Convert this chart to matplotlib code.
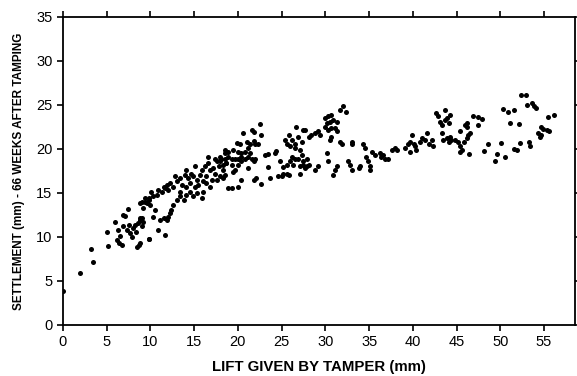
import matplotlib
matplotlib.use("Agg")
import matplotlib.pyplot as plt

lift = [
    0.0, 2.0, 3.2, 3.4, 5.0, 5.1, 6.0, 7.4, 6.9, 7.1,
    6.3, 6.5, 6.2, 6.4, 6.7, 6.9, 7.3, 7.5, 7.7, 7.9, 8.0, 8.2, 8.4, 8.6, 8.8, 9.0, 9.2,
    8.8, 9.4, 9.8, 8.5, 8.7, 9.8,
    9.0, 9.4, 9.8, 10.1, 10.3, 10.7, 10.9, 11.3, 11.5, 11.7, 11.9, 12.0, 12.2, 12.6, 12.8,
    13.0, 13.4, 13.6, 14.0, 14.1, 14.3, 14.5, 14.7, 14.9, 15.1, 15.3, 15.5, 15.7, 15.9,
    16.0, 16.2, 16.4, 16.6, 16.8, 17.0, 17.2, 17.4, 17.6, 17.8, 18.0, 18.1, 18.3, 18.5,
    18.7, 18.0, 16.8, 16.0, 15.9, 15.3, 14.9, 14.5, 14.1, 13.8, 13.4, 13.0, 12.6, 12.4,
    12.2, 12.0, 11.9, 11.5, 11.1, 10.5, 10.3, 9.9, 9.6, 9.2, 8.8, 9.0, 9.8, 10.9, 11.7,
    8.8, 14.1, 13.4, 15.1, 16.4, 17.6, 16.6, 17.4, 18.3, 18.9,
    22.5, 20.6, 21.6, 21.8, 22.7, 19.9, 20.2, 21.0, 21.4, 21.8, 22.0, 22.3, 18.5, 18.9,
    19.5, 20.0, 20.4, 20.8, 21.2, 21.4, 18.1, 18.5, 18.9, 19.3, 19.7, 20.0, 20.4, 20.8,
    21.2, 21.6, 22.0, 18.0, 18.3, 18.7, 19.3, 19.7, 20.0, 20.4, 21.2, 21.8, 18.5, 19.5,
    20.4, 21.8, 22.1, 19.3, 20.0, 22.7, 23.1, 23.5, 24.2, 24.4, 23.5, 23.7, 24.6, 25.0,
    25.2, 25.6, 25.8, 24.8, 25.2, 25.4, 25.6, 25.8, 26.2, 26.5, 26.7, 26.9, 27.3, 27.5,
    26.0, 26.5, 27.1, 26.2, 26.5, 26.9, 27.3, 26.0, 26.3, 27.1, 27.5, 27.9, 27.9, 27.1,
    28.1, 25.6,
    31.7, 32.0, 32.4, 30.0, 30.3, 30.7, 30.2, 30.5, 30.9, 30.0, 30.3, 30.7, 31.3, 31.1,
    31.3, 30.7, 30.5, 31.7, 31.9, 33.0, 33.1, 27.7, 28.4, 29.2, 29.4, 28.8, 27.5, 27.7,
    28.1, 28.8, 29.2, 30.2, 30.3, 30.9, 31.1, 31.3, 32.6, 32.8, 33.0, 33.8, 34.0, 34.3,
    34.5, 34.7, 34.9, 35.1, 35.1, 35.3, 35.7, 36.2, 36.4, 36.8, 37.2,
    36.6, 37.6, 38.0, 38.2, 39.1, 39.5, 39.7, 39.9, 40.1, 40.3, 40.4, 39.7, 40.8, 41.0,
    41.4, 41.6, 41.8, 42.2, 42.3, 42.7, 42.9, 43.1, 43.3, 43.7, 43.7, 43.9, 44.1, 44.3,
    43.3, 43.5, 43.9, 44.1, 44.3, 44.4, 44.8, 45.2, 45.4, 45.4, 45.6, 45.8, 46.0, 46.2,
    46.2, 46.3, 45.4,
    46.2, 46.5, 46.9, 47.5, 47.9, 47.5, 46.4, 48.1, 48.6, 49.4, 49.6, 50.1, 50.5, 50.3,
    50.9, 51.6, 51.1, 52.1, 51.6, 51.9, 52.3, 53.3, 53.4, 52.4, 52.9, 53.0, 53.6, 53.9,
    54.1, 54.3, 54.5, 54.7, 54.9, 55.3, 55.6, 54.7, 55.4, 56.1,
]

settlement = [
    3.8, 5.9, 8.6, 7.2, 10.5, 9.0, 11.7, 13.2, 12.5, 12.4,
    10.8, 10.1, 9.7, 9.3, 9.1, 11.2, 10.8, 11.4, 10.4, 10.0, 11.0, 11.4, 10.6, 11.6, 11.9, 12.1, 11.7,
    13.8, 14.0, 14.4, 8.9, 9.1, 9.8,
    14.0, 14.4, 14.2, 15.1, 14.6, 14.8, 15.3, 15.1, 15.7, 15.5, 15.9, 15.3, 16.1, 15.7, 16.9,
    16.3, 16.7, 15.9, 17.0, 17.6, 16.7, 16.1, 17.2, 16.9, 18.0, 16.5, 15.9, 17.0, 17.6,
    16.3, 18.0, 16.9, 18.4, 17.6, 16.5, 17.8, 17.2, 18.6, 18.0, 16.9, 18.8, 17.6, 19.5,
    18.4, 19.1, 15.7, 15.1, 14.4, 15.0, 14.6, 15.1, 14.8, 14.2, 14.6, 14.2, 13.6, 13.1,
    12.7, 12.3, 11.9, 12.1, 11.9, 13.1, 12.3, 13.6, 13.8, 13.3, 12.1, 11.2, 9.8, 10.8, 10.2,
    9.3, 15.7, 15.1, 15.7, 16.1, 16.5, 19.1, 18.9, 16.7, 15.5,
    22.8, 21.8, 22.1, 21.9, 21.6, 20.7, 20.5, 20.8, 20.6, 20.9, 20.5, 20.5, 19.9, 19.7,
    19.9, 19.7, 19.5, 19.7, 20.1, 19.5, 18.9, 18.8, 19.1, 18.9, 18.8, 18.9, 19.1, 18.9,
    19.1, 18.8, 18.9, 18.6, 18.2, 18.4, 18.2, 17.6, 18.2, 18.6, 17.8, 18.6, 17.0, 17.4,
    16.5, 16.5, 16.7, 15.5, 15.7, 16.0, 19.3, 19.4, 19.5, 19.8, 17.9, 16.7, 16.9, 16.9,
    17.2, 17.2, 17.0, 18.6, 17.9, 21.0, 20.6, 21.6, 21.0, 20.6, 22.5, 21.4, 20.8, 22.2,
    20.3, 20.1, 19.9, 19.1, 18.8, 18.9, 19.3, 18.6, 18.2, 18.0, 18.2, 18.0, 18.8, 17.2,
    21.4, 18.2,
    24.4, 24.9, 24.2, 23.5, 23.7, 23.8, 22.9, 23.1, 23.3, 22.5, 22.2, 22.4, 23.1, 22.4,
    22.0, 21.4, 21.0, 20.8, 20.6, 20.8, 20.5, 22.2, 21.6, 22.0, 21.6, 21.8, 18.6, 17.8,
    18.2, 17.6, 18.0, 19.5, 18.6, 17.0, 17.6, 18.0, 18.6, 18.2, 17.6, 17.8, 18.0, 20.6,
    20.1, 19.1, 18.6, 18.0, 17.6, 19.7, 19.3, 19.5, 19.1, 18.8, 18.9,
    19.3, 19.9, 20.1, 19.9, 20.1, 20.5, 20.8, 21.6, 20.6, 20.3, 19.9, 19.7, 20.8, 21.2,
    21.0, 21.8, 20.6, 21.0, 20.3, 24.1, 23.7, 23.1, 22.7, 24.4, 23.3, 23.5, 22.9, 23.9,
    21.8, 21.0, 21.2, 20.8, 21.4, 21.0, 21.0, 20.8, 22.0, 20.3, 19.9, 20.8, 22.7, 22.5,
    21.2, 21.6, 19.7,
    22.9, 21.8, 23.7, 23.6, 23.4, 22.7, 19.4, 19.8, 20.5, 18.6, 19.4, 20.7, 19.1, 24.5,
    24.2, 24.4, 22.9, 22.8, 20.0, 19.9, 20.7, 20.8, 20.3, 26.1, 26.1, 25.0, 25.2, 24.9,
    24.6, 21.8, 21.4, 21.6, 22.3, 22.2, 22.0, 22.5, 23.6, 23.8,
]

x_ticks = [0, 5, 10, 15, 20, 25, 30, 35, 40, 45, 50, 55]
y_ticks = [0, 5, 10, 15, 20, 25, 30, 35]

plt.rcParams['font.family'] = ['Liberation Sans', 'DejaVu Sans']

fig = plt.figure(figsize=(5.77, 3.76), dpi=100)
ax = fig.add_axes([0.109, 0.136, 0.887, 0.819])
ax.scatter(lift, settlement, s=13, c='black', linewidths=0, zorder=3)

ax.set_xlim(0, 58.5)
ax.set_ylim(0, 35)
ax.set_xticks(x_ticks)
ax.set_yticks(y_ticks)
ax.tick_params(axis='both', which='both', direction='out', length=4, width=1.2,
               labelsize=10.5, top=True, right=True, labeltop=False, labelright=False)
for sp in ax.spines.values():
    sp.set_linewidth(1.3)

ax.set_xlabel('LIFT GIVEN BY TAMPER (mm)', fontsize=10.8, fontweight='bold', labelpad=8)
ax.set_ylabel('SETTLEMENT (mm) - 66 WEEKS AFTER TAMPING', fontsize=8.5, fontweight='bold', labelpad=8)

fig.savefig('out.png', dpi=100)
